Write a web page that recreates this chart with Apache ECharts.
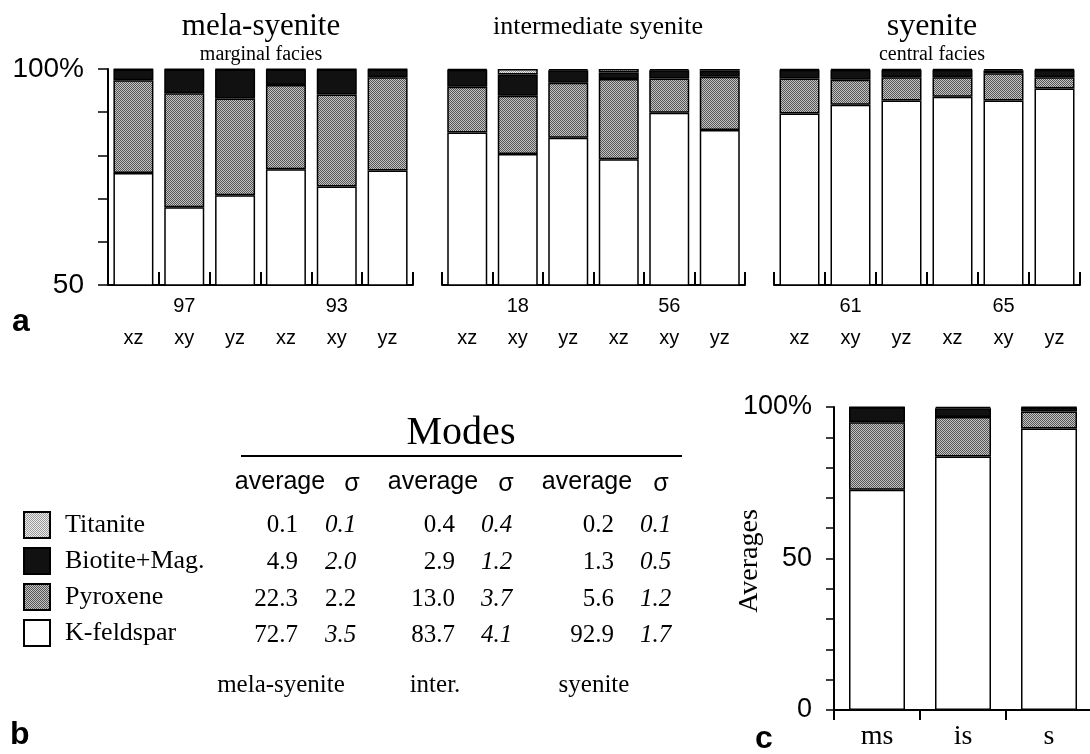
<!DOCTYPE html>
<html><head><meta charset="utf-8">
<script src="https://cdn.jsdelivr.net/npm/echarts@6/dist/echarts.min.js"></script>
<style>html,body{margin:0;padding:0;background:#fff}#chart{width:1090px;height:754px}</style>
</head><body><div id="chart"></div>
<script>
// ---------- data ----------
const minerals = ['Titanite', 'Biotite+Mag.', 'Pyroxene', 'K-feldspar'];
const sections = ['xz', 'xy', 'yz', 'xz', 'xy', 'yz'];
const groupTitles = ['mela-syenite', 'intermediate syenite', 'syenite'];
const groupSubtitles = ['marginal facies', '', 'central facies'];
const sampleNumbers = [['', '97', '', '', '93', ''], ['', '18', '', '', '56', ''], ['', '61', '', '', '65', '']];

// panel a: modal % per thin section
const kfsMela = [75.9, 68.0, 70.8, 76.8, 72.8, 76.5];
const pxMela = [21.5, 26.4, 22.4, 19.5, 21.3, 21.6];
const btMela = [2.5, 5.5, 6.7, 3.6, 5.8, 1.8];
const tiMela = [0.1, 0.1, 0.1, 0.1, 0.1, 0.1];

const kfsInter = [85.3, 80.3, 84.1, 79.1, 89.9, 85.9];
const pxInter = [10.6, 13.5, 12.7, 18.6, 7.9, 12.3];
const btInter = [3.9, 4.9, 2.9, 1.5, 1.9, 1.4];
const tiInter = [0.2, 1.3, 0.3, 0.8, 0.3, 0.4];

const kfsSyen = [89.7, 91.7, 92.7, 93.6, 92.7, 95.5];
const pxSyen = [8.1, 5.8, 5.4, 4.5, 6.3, 2.6];
const btSyen = [2.0, 2.3, 1.7, 1.7, 0.7, 1.7];
const tiSyen = [0.2, 0.2, 0.2, 0.2, 0.3, 0.2];

// panel b/c: averages and sigma (order: Titanite, Biotite+Mag., Pyroxene, K-feldspar)
const rockShort = ['mela-syenite', 'inter.', 'syenite'];
const avgCats = ['ms', 'is', 's'];
const avgMela = [0.1, 4.9, 22.3, 72.7];
const sigMela = [0.1, 2.0, 2.2, 3.5];
const avgInter = [0.4, 2.9, 13.0, 83.7];
const sigInter = [0.4, 1.2, 3.7, 4.1];
const avgSyen = [0.2, 1.3, 5.6, 92.9];
const sigSyen = [0.1, 0.5, 1.2, 1.7];
const sigUpright = [[0, 2]]; // [rock index, mineral index] printed upright

// ---------- styling ----------
const SANS = 'Liberation Sans, Arial, Helvetica, sans-serif';
const SERIF = 'Liberation Serif, Times New Roman, serif';

function stipple(c1, c2) {
  const cv = document.createElement('canvas');
  cv.width = 2; cv.height = 2;
  const ctx = cv.getContext('2d');
  ctx.fillStyle = c1; ctx.fillRect(0, 0, 2, 2);
  ctx.fillStyle = c2; ctx.fillRect(0, 0, 1, 1); ctx.fillRect(1, 1, 1, 1);
  return { image: cv, repeat: 'repeat' };
}
const fills = {
  'K-feldspar': '#ffffff',
  'Pyroxene': stipple('#c4c4c4', '#555555'),
  'Biotite+Mag.': '#111111',
  'Titanite': stipple('#ececec', '#9a9a9a')
};

const groupData = [
  { 'K-feldspar': kfsMela, 'Pyroxene': pxMela, 'Biotite+Mag.': btMela, 'Titanite': tiMela },
  { 'K-feldspar': kfsInter, 'Pyroxene': pxInter, 'Biotite+Mag.': btInter, 'Titanite': tiInter },
  { 'K-feldspar': kfsSyen, 'Pyroxene': pxSyen, 'Biotite+Mag.': btSyen, 'Titanite': tiSyen }
];
const stackOrder = ['K-feldspar', 'Pyroxene', 'Biotite+Mag.', 'Titanite'];

const gridsA = [
  { left: 108, top: 69, width: 305, height: 216 },
  { left: 442, top: 69, width: 303, height: 216 },
  { left: 774, top: 69, width: 306, height: 216 }
];
const grids = gridsA.map(g => Object.assign({ outerBoundsMode: 'none', containLabel: false }, g));
grids.push({ left: 834, top: 407, width: 258, height: 303, outerBoundsMode: 'none', containLabel: false });

const xAxes = [], yAxes = [], series = [];
gridsA.forEach((g, gi) => {
  xAxes.push({
    type: 'category', gridIndex: gi, data: sections,
    axisLine: { lineStyle: { color: '#000', width: 2 } },
    axisTick: { show: true, inside: true, length: 13, lineStyle: { color: '#000', width: 2 } },
    axisLabel: {
      interval: 0, margin: 10, color: '#000', fontFamily: SANS, fontSize: 20,
      formatter: (v, i) => '{n|' + (sampleNumbers[gi][i] || ' ') + '}\n{o|' + v + '}',
      rich: {
        n: { fontFamily: SANS, fontSize: 20, lineHeight: 22, color: '#000' },
        o: { fontFamily: SANS, fontSize: 20, lineHeight: 42, color: '#000' }
      }
    }
  });
  yAxes.push({
    type: 'value', gridIndex: gi, min: 50, max: 100, interval: 10, show: gi === 0,
    splitLine: { show: false },
    axisLine: { show: true, lineStyle: { color: '#000', width: 2 } },
    axisTick: { show: true, length: 10, lineStyle: { color: '#000', width: 1.5 } },
    axisLabel: {
      margin: 24, color: '#000', fontFamily: SANS, fontSize: 28,
      formatter: v => v === 100 ? '100%' : (v === 50 ? '50' : '')
    }
  });
  stackOrder.forEach(name => {
    series.push({
      name, type: 'bar', xAxisIndex: gi, yAxisIndex: gi, stack: 'g' + gi,
      barWidth: 40, data: groupData[gi][name], clip: true,
      itemStyle: { color: fills[name], borderColor: '#000', borderWidth: 1.5 },
      emphasis: { disabled: true }
    });
  });
});

// panel c
const avgByMineral = {};
minerals.forEach((m, mi) => { avgByMineral[m] = [avgMela[mi], avgInter[mi], avgSyen[mi]]; });
xAxes.push({
  type: 'category', gridIndex: 3, data: avgCats,
  axisLine: { lineStyle: { color: '#000', width: 2 } },
  axisTick: { show: true, length: 10, lineStyle: { color: '#000', width: 2 } },
  axisLabel: { margin: 13, color: '#000', fontFamily: SERIF, fontSize: 28 }
});
yAxes.push({
  type: 'value', gridIndex: 3, min: 0, max: 100, interval: 10,
  splitLine: { show: false },
  axisLine: { show: true, lineStyle: { color: '#000', width: 2 } },
  axisTick: { show: true, length: 8, lineStyle: { color: '#000', width: 1.5 } },
  axisLabel: {
    margin: 22, color: '#000', fontFamily: SANS, fontSize: 27,
    formatter: v => v === 100 ? '100%' : (v === 50 ? '50' : (v === 0 ? '0' : ''))
  }
});
stackOrder.forEach(name => {
  series.push({
    name, type: 'bar', xAxisIndex: 3, yAxisIndex: 3, stack: 'c',
    barWidth: 56, data: avgByMineral[name],
    itemStyle: { color: fills[name], borderColor: '#000', borderWidth: 1.5 },
    emphasis: { disabled: true }
  });
});

// ---------- graphic texts ----------
function txt(text, x, y, font, align, extra) {
  return Object.assign({
    type: 'text', silent: true,
    style: { text, x, y, font, fill: '#000', textAlign: align || 'center', align: align || 'center',
             textVerticalAlign: 'middle', verticalAlign: 'middle' }
  }, extra || {});
}
const graphics = [];
// panel a titles
const titleX = [261, 598, 932];
const titleFont = ['31px ' + SERIF, '26px ' + SERIF, '32px ' + SERIF];
groupTitles.forEach((t, i) => {
  graphics.push(txt(t, titleX[i], 27, titleFont[i]));
  if (groupSubtitles[i]) graphics.push(txt(groupSubtitles[i], titleX[i], 55, '20px ' + SERIF));
});
// panel letters
graphics.push(txt('a', 12, 322, 'bold 32px ' + SANS, 'left'));
graphics.push(txt('b', 10, 735, 'bold 32px ' + SANS, 'left'));
graphics.push(txt('c', 755, 739, 'bold 32px ' + SANS, 'left'));
// panel c axis title
graphics.push({
  type: 'text', silent: true, x: 750, y: 561, rotation: Math.PI / 2,
  style: { text: 'Averages', x: 0, y: 0, font: '28px ' + SERIF, fill: '#000',
           textAlign: 'center', align: 'center', textVerticalAlign: 'middle', verticalAlign: 'middle' }
});

// panel b table
graphics.push(txt('Modes', 461, 433, '40px ' + SERIF));
graphics.push({ type: 'line', silent: true, shape: { x1: 241, y1: 456, x2: 682, y2: 456 }, style: { stroke: '#000', lineWidth: 2 } });
const avgHeadX = [280, 433, 587];
const sigHeadX = [352, 506, 661];
const avgRight = [298, 455, 614];
const sigLeft = [325, 481, 640];
const rowY = [525, 562, 599, 635];
const avgs = [avgMela, avgInter, avgSyen];
const sigs = [sigMela, sigInter, sigSyen];
const footX = [281, 435, 594];
rockShort.forEach((r, ri) => {
  graphics.push(txt('average', avgHeadX[ri], 482, '25px ' + SANS));
  graphics.push(txt('σ', sigHeadX[ri], 484, '25px ' + SANS));
  minerals.forEach((m, mi) => {
    graphics.push(txt(avgs[ri][mi].toFixed(1), avgRight[ri], rowY[mi], '25px ' + SERIF, 'right'));
    const upright = sigUpright.some(p => p[0] === ri && p[1] === mi);
    graphics.push(txt(sigs[ri][mi].toFixed(1), sigLeft[ri], rowY[mi], (upright ? '' : 'italic ') + '25px ' + SERIF, 'left'));
  });
  graphics.push(txt(r, footX[ri], 685, '25px ' + SERIF));
});

const chart = echarts.init(document.getElementById('chart'), null, { renderer: 'canvas' });
chart.setOption({
  backgroundColor: '#fff',
  animation: false,
  grid: grids,
  xAxis: xAxes,
  yAxis: yAxes,
  series,
  legend: {
    data: minerals, orient: 'vertical', left: 18, top: 506,
    itemWidth: 26, itemHeight: 26, itemGap: 8, icon: 'rect', selectedMode: false,
    textStyle: { fontFamily: SERIF, fontSize: 26, lineHeight: 26, color: '#000', padding: [0, 0, 0, 10] }
  },
  graphic: graphics
});
</script>
</body></html>
